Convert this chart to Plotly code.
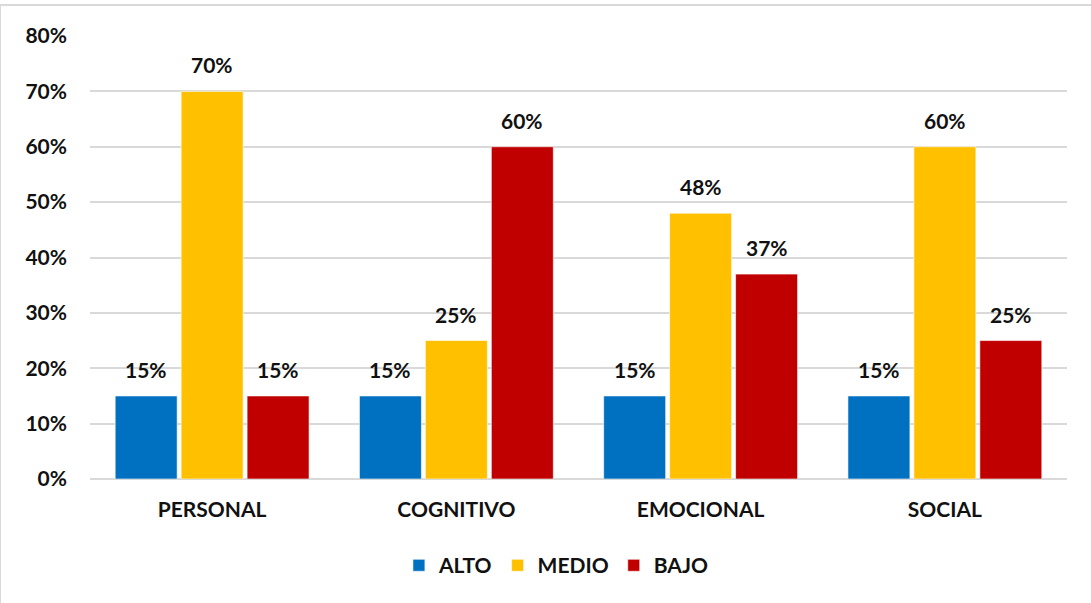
import plotly.graph_objects as go

categories = ["PERSONAL", "COGNITIVO", "EMOCIONAL", "SOCIAL"]
alto = [15, 15, 15, 15]
medio = [70, 25, 48, 60]
bajo = [15, 60, 37, 25]
series_names = ["ALTO", "MEDIO", "BAJO"]
colors = ["#0070C0", "#FFC000", "#C00000"]
tick_vals = [0, 10, 20, 30, 40, 50, 60, 70, 80]
tick_text = [f"{v}%" for v in tick_vals]

FONT = "Lato"
TXT = "#111111"
BARGAP = 0.19
series_vals = [alto, medio, bajo]

fig = go.Figure()
for name, vals, col in zip(series_names, series_vals, colors):
    fig.add_trace(go.Bar(
        name=name, x=categories, y=vals,
        marker=dict(color=col, line=dict(color="rgba(255,255,255,0.6)", width=1)),
    ))

# data labels above bars, positioned from the data through the category axis
slot = (1 - BARGAP) / len(series_vals)
annotations = []
for j, vals in enumerate(series_vals):
    for i, v in enumerate(vals):
        annotations.append(dict(
            x=i + (j - (len(series_vals) - 1) / 2) * slot, y=v,
            xref="x", yref="y", text=f"{v}%", showarrow=False,
            yanchor="bottom", yshift=12,
            font=dict(family=FONT, size=21, color=TXT, weight="bold"),
        ))

fig.update_layout(
    width=1091, height=603,
    margin=dict(l=90, r=24, t=36, b=124),
    paper_bgcolor="white", plot_bgcolor="white",
    barmode="group", bargap=BARGAP, bargroupgap=0.06,
    font=dict(family=FONT, size=21, color=TXT, weight="bold"),
    showlegend=True,
    legend=dict(orientation="h", xref="container", x=0.510, xanchor="center",
                yref="container", y=0.028, yanchor="bottom",
                font=dict(family=FONT, size=21, color=TXT, weight="bold"),
                itemwidth=30, tracegroupgap=0),
    yaxis=dict(range=[0, 80], tickvals=tick_vals, ticktext=tick_text,
               showgrid=True, gridcolor="#D9D9D9", gridwidth=1.5,
               zeroline=True, zerolinecolor="#D9D9D9", zerolinewidth=1.5,
               showline=False, ticklabelstandoff=22,
               tickfont=dict(family=FONT, size=21, color=TXT, weight="bold")),
    xaxis=dict(showgrid=False, showline=False, ticks="", ticklabelstandoff=16,
               tickfont=dict(family=FONT, size=21, color=TXT, weight="bold")),
    annotations=annotations,
    shapes=[dict(type="rect", xref="paper", yref="paper",
                 x0=-90/977, x1=1.05, y0=-0.5, y1=1 + 31/443,
                 line=dict(color="#D9D9D9", width=2), fillcolor="rgba(0,0,0,0)", layer="below")],
)

fig.write_html("out.html")
